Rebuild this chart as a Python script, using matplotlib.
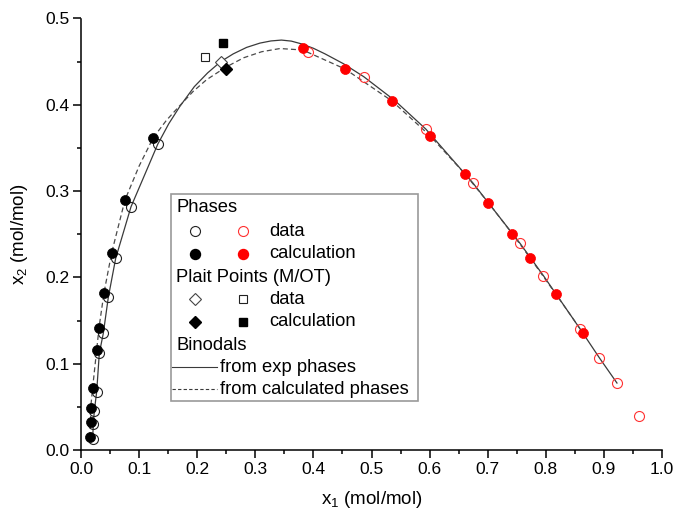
import matplotlib
matplotlib.use("Agg")
import matplotlib.pyplot as plt
from matplotlib.lines import Line2D
from matplotlib.patches import Rectangle
from matplotlib.ticker import MultipleLocator, FormatStrFormatter

plt.rcParams['font.family'] = ['Liberation Sans', 'DejaVu Sans']
plt.rcParams['mathtext.fontset'] = 'custom'
plt.rcParams['mathtext.rm'] = 'Liberation Sans'
plt.rcParams['mathtext.it'] = 'Liberation Sans'

# Phase compositions, component-1 rich branch (black) - measured / calculated
left_data_x = [0.020, 0.0212, 0.0229, 0.027, 0.0315, 0.0384, 0.047, 0.0597, 0.0861, 0.132]
left_data_y = [0.0124, 0.0298, 0.0452, 0.0676, 0.112, 0.1352, 0.1769, 0.2221, 0.2819, 0.3542]
left_calc_x = [0.0155, 0.0167, 0.0167, 0.020, 0.027, 0.031, 0.0396, 0.0528, 0.0757, 0.1244]
left_calc_y = [0.015, 0.0328, 0.049, 0.072, 0.116, 0.1417, 0.1823, 0.2286, 0.2897, 0.3619]

# Phase compositions, other branch (red)
right_data_x = [0.3912, 0.4866, 0.5933, 0.6742, 0.7556, 0.7957, 0.8594, 0.892, 0.9225, 0.961]
right_data_y = [0.4615, 0.4326, 0.372, 0.3097, 0.2395, 0.2022, 0.1399, 0.107, 0.0776, 0.0394]
right_calc_x = [0.3816, 0.4544, 0.5353, 0.6007, 0.661, 0.701, 0.7423, 0.7728, 0.8176, 0.8645]
right_calc_y = [0.4662, 0.4415, 0.4044, 0.3642, 0.3198, 0.2866, 0.2506, 0.2228, 0.1804, 0.1352]

# Plait points (M/OT)
plait_diamond_data = (0.2404, 0.450)
plait_diamond_calc = (0.249, 0.441)
plait_square_data = (0.2134, 0.455)
plait_square_calc = (0.2439, 0.472)

# Binodal curves
binodal_exp_x = [0.020, 0.0212, 0.0229, 0.027, 0.0315, 0.0384, 0.047, 0.0597, 0.0861, 0.110,
                 0.132, 0.151, 0.170, 0.195, 0.218, 0.2404, 0.262, 0.285, 0.308, 0.327,
                 0.345, 0.362, 0.380, 0.400, 0.420, 0.452, 0.4866, 0.540, 0.5933, 0.6742,
                 0.7556, 0.7957, 0.8594, 0.892, 0.9225]
binodal_exp_y = [0.0124, 0.0298, 0.0452, 0.0676, 0.112, 0.1352, 0.1769, 0.2221, 0.2819, 0.3195,
                 0.3542, 0.378, 0.398, 0.421, 0.437, 0.450, 0.459, 0.4665, 0.4715, 0.474,
                 0.475, 0.4738, 0.4705, 0.4655, 0.459, 0.4475, 0.4326, 0.405, 0.372, 0.3097,
                 0.2395, 0.2022, 0.1399, 0.107, 0.0776]
binodal_calc_x = [0.0155, 0.0167, 0.0167, 0.020, 0.027, 0.031, 0.0396, 0.0528, 0.0757, 0.100,
                  0.1244, 0.147, 0.170, 0.193, 0.216, 0.249, 0.280, 0.311, 0.3425, 0.3816,
                  0.4544, 0.5353, 0.6007, 0.661, 0.701, 0.7423, 0.7728, 0.8176, 0.8645]
binodal_calc_y = [0.015, 0.0328, 0.049, 0.072, 0.116, 0.1417, 0.1823, 0.2286, 0.2897, 0.329,
                  0.3619, 0.382, 0.399, 0.4155, 0.429, 0.4435, 0.4545, 0.4615, 0.4652, 0.4635,
                  0.4415, 0.4044, 0.3642, 0.3198, 0.2866, 0.2506, 0.2228, 0.1804, 0.1352]

W, H = 673, 520
fig = plt.figure(figsize=(W / 100, H / 100), dpi=100)
ax = fig.add_axes([81 / W, 1 - 450 / H, (662 - 81) / W, (450 - 18.5) / H])

line_col = '#3a3a3a'
ax.plot(binodal_exp_x, binodal_exp_y, '-', color=line_col, lw=0.9, zorder=2)
ax.plot(binodal_calc_x, binodal_calc_y, color='#4a4a4a', lw=0.9, ls=(0, (4, 2.5)), zorder=2)

ms = 7.2
ax.plot(left_data_x, left_data_y, 'o', ms=ms, mfc='none', mec='#222222', mew=0.8, zorder=3)
ax.plot(left_calc_x, left_calc_y, 'o', ms=ms, mfc='black', mec='black', mew=0.5, zorder=4)
ax.plot(right_data_x, right_data_y, 'o', ms=ms, mfc='none', mec='#ff3030', mew=0.8, zorder=3)
ax.plot(right_calc_x, right_calc_y, 'o', ms=ms, mfc='red', mec='red', mew=0.5, zorder=4)

ax.plot(*plait_square_data, 's', ms=6.3, mfc='white', mec='#222222', mew=0.8, zorder=5)
ax.plot(*plait_square_calc, 's', ms=6.3, mfc='black', mec='black', zorder=5)
ax.plot(*plait_diamond_data, 'D', ms=6.0, mfc='white', mec='#444444', mew=0.8, zorder=5)
ax.plot(*plait_diamond_calc, 'D', ms=6.0, mfc='black', mec='black', zorder=5)

ax.set_xlim(0, 1.0)
ax.set_ylim(0, 0.5)
ax.xaxis.set_major_locator(MultipleLocator(0.1))
ax.xaxis.set_minor_locator(MultipleLocator(0.05))
ax.yaxis.set_major_locator(MultipleLocator(0.1))
ax.yaxis.set_minor_locator(MultipleLocator(0.05))
ax.xaxis.set_major_formatter(FormatStrFormatter('%.1f'))
ax.yaxis.set_major_formatter(FormatStrFormatter('%.1f'))
for s in ('top', 'right'):
    ax.spines[s].set_visible(False)
for s in ('left', 'bottom'):
    ax.spines[s].set_linewidth(1.1)
ax.tick_params(which='major', direction='out', length=5.5, width=1.1, labelsize=12.5, pad=3)
ax.tick_params(which='minor', direction='out', length=3, width=1.1)
ax.set_xlabel('x$_1$ (mol/mol)', fontsize=13.5, labelpad=9)
ax.set_ylabel('x$_2$ (mol/mol)', fontsize=13.5, labelpad=11)


# Sectioned legend drawn in figure pixel coordinates
def fp(x, y):
    return x / W, 1 - y / H


box = Rectangle(fp(171, 401), (418 - 171) / W, (401 - 194) / H, transform=fig.transFigure,
                facecolor='white', edgecolor='#9a9a9a', lw=1.2, zorder=10)
fig.add_artist(box)

fs = 13.2
c1, c2, tx = 195, 243, 269


def txt(x, y, s):
    fig.text(*fp(x, y), s, fontsize=fs, va='center', ha='left', zorder=11)


def mk(x, y, **kw):
    xx, yy = fp(x, y)
    fig.add_artist(Line2D([xx], [yy], transform=fig.transFigure, ls='none', zorder=11, **kw))


txt(176, 208, 'Phases')
mk(c1, 231, marker='o', ms=ms, mfc='none', mec='#222222', mew=0.8)
mk(c2, 231, marker='o', ms=ms, mfc='none', mec='#ff3030', mew=0.8)
txt(tx, 231, 'data')
mk(c1, 254, marker='o', ms=ms, mfc='black', mec='black')
mk(c2, 254, marker='o', ms=ms, mfc='red', mec='red')
txt(tx, 254, 'calculation')

txt(176, 277, 'Plait Points (M/OT)')
mk(c1, 299, marker='D', ms=6.0, mfc='white', mec='#444444', mew=0.8)
mk(c2, 299, marker='s', ms=5.5, mfc='white', mec='#222222', mew=0.8)
txt(tx, 299, 'data')
mk(c1, 322, marker='D', ms=6.0, mfc='black', mec='black')
mk(c2, 322, marker='s', ms=5.5, mfc='black', mec='black')
txt(tx, 322, 'calculation')

txt(176, 345, 'Binodals')
for yy, style, lab in ((367, '-', 'from exp phases'), (389, (0, (3, 2)), 'from calculated phases')):
    (x0, y0), (x1, _) = fp(172, yy), fp(217, yy)
    fig.add_artist(Line2D([x0, x1], [y0, y0], transform=fig.transFigure, color=line_col,
                          lw=0.8, ls=style, zorder=11))
    txt(220, yy, lab)

fig.savefig('out.png', dpi=100)
